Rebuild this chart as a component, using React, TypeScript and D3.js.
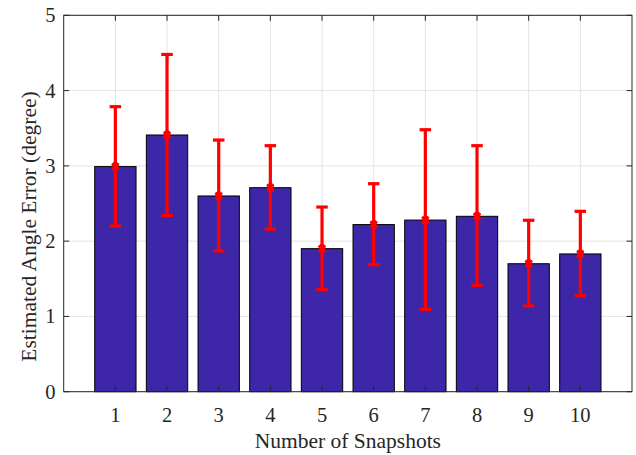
import React from "react";
import * as d3 from "d3";

// Mean estimated angle error per number of snapshots, with spread bounds
const snapshots = [1, 2, 3, 4, 5, 6, 7, 8, 9, 10];
const meanError = [2.99, 3.41, 2.6, 2.71, 1.9, 2.22, 2.28, 2.33, 1.7, 1.83];
const lowerBound = [2.2, 2.34, 1.87, 2.16, 1.355, 1.687, 1.094, 1.413, 1.138, 1.275];
const upperBound = [3.786, 4.48, 3.343, 3.268, 2.453, 2.763, 3.48, 3.268, 2.277, 2.396];
const yTicks = [0, 1, 2, 3, 4, 5];

const W = 636;
const H = 455;
const left = 63.7;
const right = 632;
const top = 15.3;
const bottom = 391.7;

const axisColor = "#262626";
const gridColor = "#e3e3e3";
const barColor = "rgb(62,38,168)";
const errColor = "#ff0000";
const font = "'Liberation Serif', 'Times New Roman', serif";

export default function App() {
  const x = d3.scaleLinear().domain([0, 11]).range([left, right]);
  const y = d3.scaleLinear().domain([0, 5]).range([bottom, top]);
  const barW = (x(1) - x(0)) * 0.8;
  const capW = 11.5;
  const tickLen = 5.5;

  return (
    <svg
      width={W}
      height={H}
      style={{ position: "absolute", left: 0, top: 0, background: "#fff" }}
    >
      {/* grid */}
      {snapshots.map((s) => (
        <line key={"gx" + s} x1={x(s)} x2={x(s)} y1={top} y2={bottom} stroke={gridColor} strokeWidth={1} />
      ))}
      {yTicks.map((t) => (
        <line key={"gy" + t} x1={left} x2={right} y1={y(t)} y2={y(t)} stroke={gridColor} strokeWidth={1} />
      ))}

      {/* bars */}
      {snapshots.map((s, i) => (
        <rect
          key={"b" + s}
          x={x(s) - barW / 2}
          y={y(meanError[i])}
          width={barW}
          height={y(0) - y(meanError[i])}
          fill={barColor}
          stroke="#000"
          strokeWidth={1}
        />
      ))}

      {/* error bars */}
      {snapshots.map((s, i) => {
        const cx = x(s);
        const cy = y(meanError[i]);
        const yt = y(upperBound[i]);
        const yb = y(lowerBound[i]);
        return (
          <g key={"e" + s} stroke={errColor} fill={errColor}>
            <line x1={cx} x2={cx} y1={yt} y2={yb} strokeWidth={3.2} />
            <line x1={cx - capW / 2} x2={cx + capW / 2} y1={yt} y2={yt} strokeWidth={3.2} />
            <line x1={cx - capW / 2} x2={cx + capW / 2} y1={yb} y2={yb} strokeWidth={3.2} />
            <path
              d={`M${cx},${cy - 5} L${cx + 3.6},${cy - 2.6} L${cx + 2.4},${cy} L${cx + 3.6},${cy + 2.6} L${cx},${cy + 5} L${cx - 3.6},${cy + 2.6} L${cx - 2.4},${cy} L${cx - 3.6},${cy - 2.6} Z`}
              strokeWidth={1}
            />
          </g>
        );
      })}

      {/* axes box */}
      <rect x={left} y={top} width={right - left} height={bottom - top} fill="none" stroke={axisColor} strokeWidth={1} />

      {/* ticks */}
      {snapshots.map((s) => (
        <g key={"tx" + s} stroke={axisColor} strokeWidth={1}>
          <line x1={x(s)} x2={x(s)} y1={bottom} y2={bottom - tickLen} />
          <line x1={x(s)} x2={x(s)} y1={top} y2={top + tickLen} />
        </g>
      ))}
      {yTicks.map((t) => (
        <g key={"ty" + t} stroke={axisColor} strokeWidth={1}>
          <line x1={left} x2={left + tickLen} y1={y(t)} y2={y(t)} />
          <line x1={right} x2={right - tickLen} y1={y(t)} y2={y(t)} />
        </g>
      ))}

      {/* tick labels */}
      {snapshots.map((s) => (
        <text key={"lx" + s} x={x(s)} y={421.5} textAnchor="middle" fontFamily={font} fontSize={20.5} fill={axisColor}>
          {s}
        </text>
      ))}
      {yTicks.map((t) => (
        <text
          key={"ly" + t}
          x={55.5}
          y={y(t)}
          dy="0.34em"
          textAnchor="end"
          fontFamily={font}
          fontSize={20.5}
          fill={axisColor}
        >
          {t}
        </text>
      ))}

      {/* axis titles */}
      <text x={(left + right) / 2} y={448} textAnchor="middle" fontFamily={font} fontSize={21.5} fill={axisColor}>
        Number of Snapshots
      </text>
      <text
        transform={`translate(35.5,${(top + bottom) / 2 + 23}) rotate(-90)`}
        textAnchor="middle"
        fontFamily={font}
        fontSize={21.5}
        fill={axisColor}
      >
        Estimated Angle Error (degree)
      </text>
    </svg>
  );
}
